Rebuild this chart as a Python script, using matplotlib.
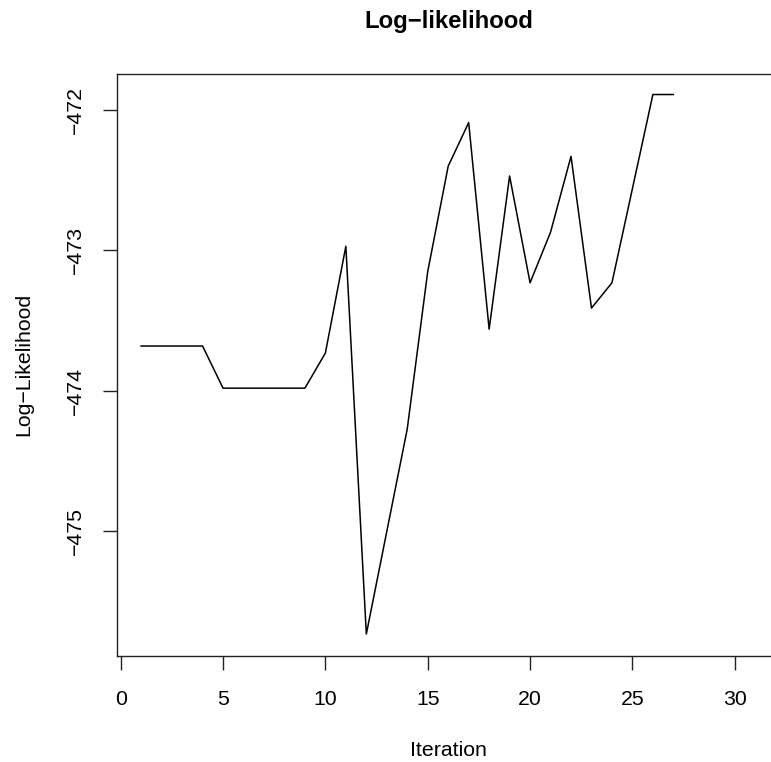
import numpy as np
import matplotlib
matplotlib.use("Agg")
import matplotlib.pyplot as plt

plt.rcParams['font.family'] = ['Liberation Sans', 'DejaVu Sans']

# log-likelihood per iteration
iteration = list(range(1, 28))
loglik = [-473.68, -473.68, -473.68, -473.68, -473.98, -473.98, -473.98,
          -473.98, -473.98, -473.73, -472.97, -475.73, -475.00, -474.27,
          -473.15, -472.40, -472.09, -473.56, -472.47, -473.23, -472.87,
          -472.33, -473.41, -473.23, -472.56, -471.89, -471.89]
xticks = [0, 5, 10, 15, 20, 25, 30]
yticks = [-475, -474, -473, -472]

W, H = 771, 762
fig = plt.figure(figsize=(W / 100, H / 100), dpi=100)

# plot box runs off the right edge like in the original
left, right, top, bottom = 116.7, 780.0, 74.0, 655.7
ax = fig.add_axes([left / W, 1 - bottom / H, (right - left) / W, (bottom - top) / H])

ax.plot(iteration, loglik, color='black', lw=1.1)

ax.set_xlim(-0.195, 32.21)
ax.set_ylim(-475.884, -471.744)
ax.set_xticks(xticks)
ax.set_yticks(yticks)
ax.set_yticklabels([str(v).replace('-', '\u2212') for v in yticks],
                   rotation=90, va='center')

for s in ax.spines.values():
    s.set_linewidth(1.0)
    s.set_color('#222222')
ax.tick_params(axis='both', length=9.8, width=1.0, color='#222222',
               labelsize=15.3)
ax.tick_params(axis='x', pad=14.8)
ax.tick_params(axis='y', pad=13)

ax.set_title('Log\u2212likelihood', fontsize=17.2, fontweight='bold', pad=33)
fig.text(448.3 / W, 1 - 756 / H, 'Iteration', ha='center', va='baseline',
         fontsize=15.3)
fig.text(23.5 / W, 1 - 364.7 / H, 'Log\u2212Likelihood', ha='center',
         va='center', rotation=90, fontsize=15.3)

fig.savefig('out.png', dpi=100)
